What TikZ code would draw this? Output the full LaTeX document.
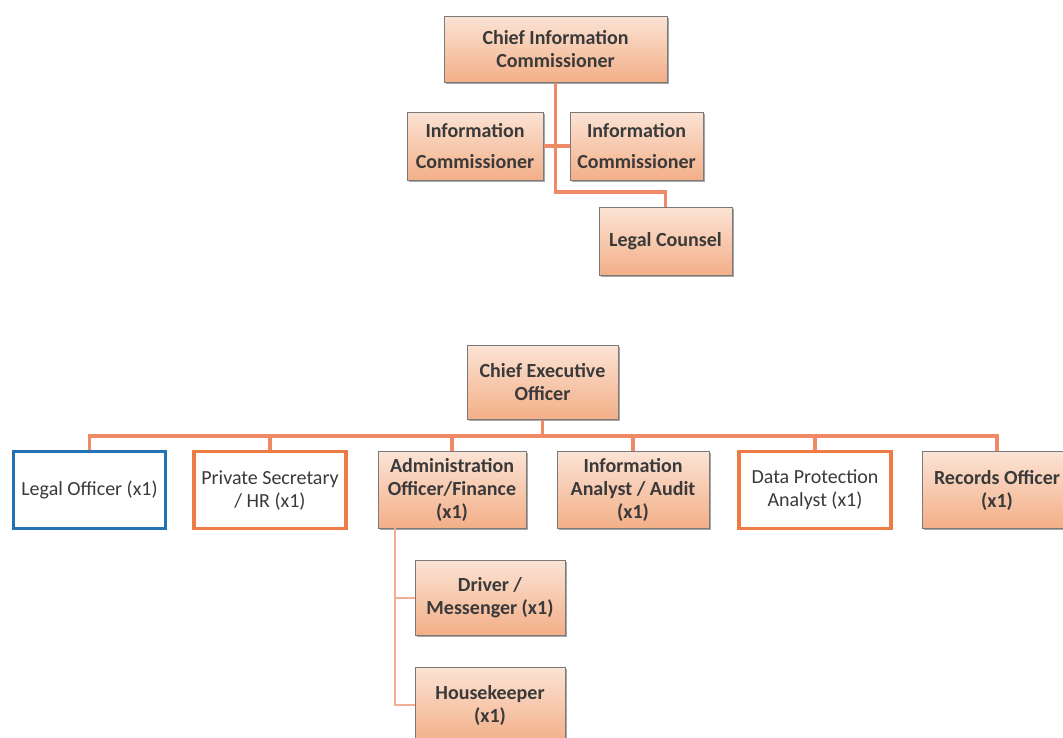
\documentclass[tikz,border=0pt]{standalone}
\usepackage{fontspec}
\setmainfont{Carlito}
\usetikzlibrary{shadows}
\definecolor{peachT}{HTML}{FBE3D4}
\definecolor{peachB}{HTML}{F3AF88}
\definecolor{boxline}{HTML}{7A7A7A}
\definecolor{conn}{HTML}{EE8A66}
\definecolor{txt}{HTML}{3A3A3A}
\definecolor{blueline}{HTML}{2472B4}
\definecolor{orangeline}{HTML}{EE7C45}
\begin{document}
\begin{tikzpicture}[x=1pt,y=-1pt,
  every node/.style={font=\fontsize{20}{23}\selectfont, text=txt, align=center, inner sep=0pt},
  gbox/.style={draw=boxline, line width=1pt, top color=peachT, bottom color=peachB,
    font=\fontsize{20}{23}\selectfont\bfseries,
    drop shadow={shadow xshift=1.5pt, shadow yshift=-1.5pt, opacity=0.35, fill=black}},
  widelines/.style={font=\fontsize{20}{31}\selectfont\bfseries},
  wbox/.style={fill=white, line width=3.5pt},
  conline/.style={draw=conn, line width=3.5pt},
  subline/.style={draw=conn!70, line width=2pt}]
\useasboundingbox (0,0) rectangle (1063,737);
% top group
\node[gbox, minimum width=223pt, minimum height=66pt] (cic) at (555.5,49) {Chief Information\\Commissioner};
\node[gbox, widelines, minimum width=136pt, minimum height=68pt] (ic1) at (475,146) {Information\\Commissioner};
\node[gbox, widelines, minimum width=133pt, minimum height=68pt] (ic2) at (636.5,146) {Information\\Commissioner};
\node[gbox, minimum width=133pt, minimum height=68pt] (lc) at (665.5,241) {Legal Counsel};
\coordinate (j1) at (555.5,192);
\draw[conline] (cic.south) -- (j1) -| (lc.north);
\draw[conline] (ic1.east) -- (ic2.west);
% bottom group
\node[gbox, minimum width=151pt, minimum height=74pt] (ceo) at (542.5,382) {Chief Executive\\Officer};
\node[wbox, draw=blueline, minimum width=152pt, minimum height=77pt] (lo) at (89.5,490) {Legal Officer (x1)};
\node[wbox, draw=orangeline, minimum width=152pt, minimum height=77pt] (ps) at (270,490) {Private Secretary\\/ HR (x1)};
\node[gbox, minimum width=148pt, minimum height=77pt] (ao) at (452,490) {Administration\\Officer/Finance\\(x1)};
\node[gbox, minimum width=152pt, minimum height=77pt] (ia) at (633,490) {Information\\Analyst / Audit\\(x1)};
\node[wbox, draw=orangeline, minimum width=152pt, minimum height=77pt] (dp) at (815,490) {Data Protection\\Analyst (x1)};
\node[gbox, minimum width=150pt, minimum height=77pt] (ro) at (997,490) {Records Officer\\(x1)};
\coordinate (bus) at (542.5,436);
\draw[conline] (ceo.south) -- (bus);
\foreach \n in {lo,ps,ao,ia,dp,ro} {\draw[conline] (bus) -| (\n.north);}
\node[gbox, minimum width=150pt, minimum height=75pt] (dm) at (490,597.5) {Driver /\\Messenger (x1)};
\node[gbox, minimum width=150pt, minimum height=75pt] (hk) at (490,705) {Housekeeper\\(x1)};
\coordinate (sv) at (395,528);
\draw[subline] (sv) |- (dm.west);
\draw[subline] (sv) |- (hk.west);
\end{tikzpicture}
\end{document}
